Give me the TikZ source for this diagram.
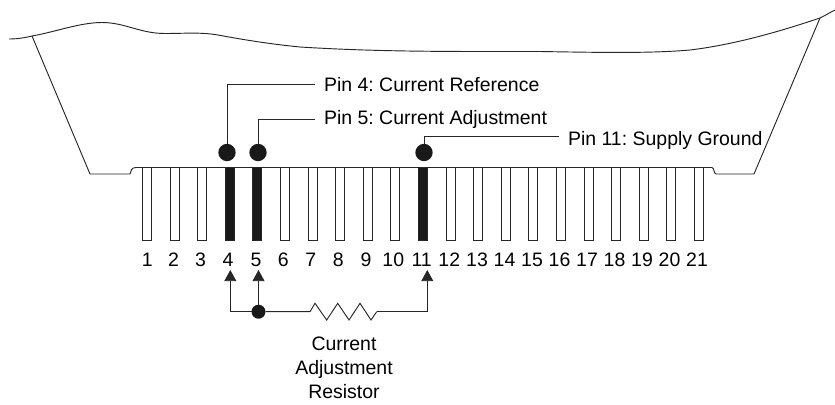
\documentclass[tikz,border=0pt]{standalone}
\usepackage{fontspec}
\setmainfont{Liberation Sans}
\usetikzlibrary{arrows.meta}
\frenchspacing

\tikzset{
  pin/.style={draw=black!85,line width=0.7pt,fill=white,minimum width=6.8pt,minimum height=55pt,inner sep=0pt,outer sep=0pt},
  hot/.style={pin,fill=black!90},
  num/.style={font=\fontsize{14.6}{18}\selectfont,inner sep=0pt,text height=10.4pt,text depth=0pt},
  lbl/.style={font=\fontsize{14.6}{18}\selectfont,anchor=west,inner xsep=6.6pt,inner ysep=0pt,text height=10.4pt,text depth=3pt},
  dot/.style={circle,fill=black!90,inner sep=0pt,outer sep=0pt,minimum size=13pt},
  jct/.style={circle,fill=black!90,inner sep=0pt,outer sep=0pt,minimum size=10.5pt},
  wire/.style={black!85,line width=0.7pt},
  tip/.style={wire,-{Triangle[width=9pt,length=8.4pt]}}
}

\begin{document}
\begin{tikzpicture}[x=0.75pt,y=-0.75pt]
\useasboundingbox (0,0) rectangle (835,404);

% body of the part
\draw[wire] (9,39) .. controls (18,39) and (26,37.5) .. (32,36)
  .. controls (55,32) and (80,22.5) .. (102,22.5)
  .. controls (125,22.5) and (140,33.5) .. (165,33.5)
  .. controls (185,33.5) and (200,32) .. (218,35)
  .. controls (245,40) and (270,44) .. (300,47)
  .. controls (380,52) and (450,51.5) .. (540,51.5)
  .. controls (600,52.5) and (650,53.5) .. (690,50)
  .. controls (740,44) and (790,28) .. (820,18)
  .. controls (825,15.5) and (830,12.5) .. (835,10);
\draw[wire] (32,36) -- (90,174) -- (130,174)
  .. controls (131,171) and (131,167.5) .. (136,167.5)
  -- (712,167.5)
  .. controls (714,167.5) and (714,174) .. (716,174)
  -- (754,174) -- (820,18);

% pins
\node[pin] (p1) at (147,204) {};
\node[pin] (p2) at (174.6,204) {};
\node[pin] (p3) at (202.2,204) {};
\node[hot] (p4) at (229.8,204) {};
\node[hot] (p5) at (257.4,204) {};
\node[pin] (p6) at (285,204) {};
\node[pin] (p7) at (312.6,204) {};
\node[pin] (p8) at (340.2,204) {};
\node[pin] (p9) at (367.8,204) {};
\node[pin] (p10) at (395.4,204) {};
\node[hot] (p11) at (423,204) {};
\node[pin] (p12) at (450.6,204) {};
\node[pin] (p13) at (478.2,204) {};
\node[pin] (p14) at (505.8,204) {};
\node[pin] (p15) at (533.4,204) {};
\node[pin] (p16) at (561,204) {};
\node[pin] (p17) at (588.6,204) {};
\node[pin] (p18) at (616.2,204) {};
\node[pin] (p19) at (643.8,204) {};
\node[pin] (p20) at (671.4,204) {};
\node[pin] (p21) at (699,204) {};

% pin numbers
\node[num] (n1) at (147.3,260) {1};
\node[num] (n2) at (173.6,260) {2};
\node[num] (n3) at (200.6,260) {3};
\node[num] (n4) at (228,260) {4};
\node[num] (n5) at (256,260) {5};
\node[num] (n6) at (283.4,260) {6};
\node[num] (n7) at (310.8,260) {7};
\node[num] (n8) at (338.3,260) {8};
\node[num] (n9) at (366,260) {9};
\node[num] (n10) at (393.3,260) {10};
\node[num] (n11) at (421.7,260) {11};
\node[num] (n12) at (449.3,260) {12};
\node[num] (n13) at (477,260) {13};
\node[num] (n14) at (504.5,260) {14};
\node[num] (n15) at (532,260) {15};
\node[num] (n16) at (559.5,260) {16};
\node[num] (n17) at (587,260) {17};
\node[num] (n18) at (614.5,260) {18};
\node[num] (n19) at (642,260) {19};
\node[num] (n20) at (669.5,260) {20};
\node[num] (n21) at (697,260) {21};

% callouts
\node[dot] (d4) at (227,152.5) {};
\node[dot] (d5) at (258,152.5) {};
\node[dot] (d11) at (424,152.5) {};
\node[lbl] (t4) at (315,87) {Pin 4: Current Reference};
\node[lbl] (t5) at (315,120) {Pin 5: Current Adjustment};
\node[lbl] (t11) at (559,140.5) {Pin 11: Supply Ground};
\coordinate (e4) at (315,84);
\coordinate (e5) at (315,119);
\coordinate (e11) at (559,136);
\draw[wire] (d4) |- (e4);
\draw[wire] (d5) |- (e5);
\draw[wire] (d11) |- (e11);

% resistor
\node[jct] (j) at (258.5,311.7) {};
\coordinate (a4) at (230.3,270);
\coordinate (a5) at (258.5,270);
\coordinate (a11) at (427.3,270);
\coordinate (r1) at (310,311.7);
\coordinate (r2) at (376.7,311.7);
\draw[tip] (j) -| (a4);
\draw[tip] (j) -- (a5);
\draw[wire] (j) -- (r1) -- ++(5,-8.4) -- ++(11.7,16.7) -- ++(11,-16.7) -- ++(11.3,16.7) -- ++(11,-16.7) -- ++(11,16.7) -- (r2);
\draw[tip] (r2) -| (a11);

\node[font=\fontsize{14.6}{18}\selectfont,align=center,inner sep=0pt] (c) at (344,368) {Current\\Adjustment\\Resistor};
\end{tikzpicture}
\end{document}
